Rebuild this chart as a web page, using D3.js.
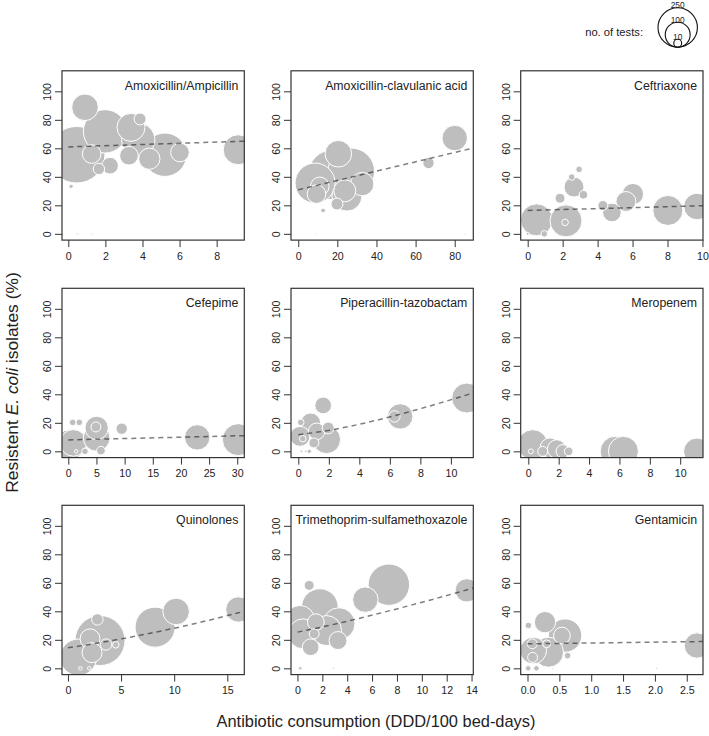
<!DOCTYPE html>
<html><head><meta charset="utf-8">
<script src="https://cdn.jsdelivr.net/npm/d3@7"></script>
<style>
body{margin:0;background:#fff}
svg{display:block}
text{font-family:"Liberation Sans",Arial,Helvetica,sans-serif;fill:#222}
</style>
</head><body>
<svg id="chart" width="709" height="736"></svg>
<script>
// ---------------- DATA ----------------
const panelTitles = ["Amoxicillin/Ampicillin","Amoxicillin-clavulanic acid","Ceftriaxone",
  "Cefepime","Piperacillin-tazobactam","Meropenem",
  "Quinolones","Trimethoprim-sulfamethoxazole","Gentamicin"];

// bubbles: [consumption (DDD/100 bed-days), resistant %, no. of tests]
const amoxAmpicillin = [[0.45,55.5,516],[0.9,88.8,114],[1.98,71.9,303],[1.26,56,56],[1.65,45.5,21],[2.25,47.8,45],
  [3.77,66,179],[3.38,74.7,126],[3.87,80.6,23],[3.27,54.8,56],[5.21,55.5,303],[4.37,52.7,73],[6.02,57.1,56],
  [9.16,59,145],[0.15,33.3,3],[0.5,0,0.5],[1.3,0,0.5]];
const amoxClavulanic = [[8.6,35.6,258],[17.9,41.5,403],[27.1,43.8,350],[24.9,26.5,145],[20.5,56.2,114],[32.7,34.9,88],
  [23.8,30.2,78],[11,33.3,56],[9.35,27.9,56],[19.8,20.9,23],[12.7,16.4,3.5],[66.6,49.7,21],[80,67.2,104],[9,0,0.5],[85.3,0,0.5]];
const ceftriaxone = [[0.51,9.8,165],[2.19,9.1,165],[2.14,8,7],[0.95,0,7],[0,0,1.5],[1.85,25,16],[2.65,32.8,64],
  [2.52,39.8,7],[2.94,45.2,7],[3.19,27.4,12],[4.3,19.9,16],[4.82,15,56],[6.02,27.9,73],[5.62,22.7,64],[8.02,16.4,145],[9.69,19.2,114]];
const cefepime = [[0.3,4.7,145],[0.89,5.9,114],[5.03,9.4,114],[5.03,16.4,88],[4.9,17.1,16],[0.78,20.3,7],[1.95,20.3,7],
  [9.48,15.9,21],[5.8,0.5,12],[2.96,0,7],[1.4,0,2],[22.9,9.8,104],[30.2,8.2,165]];
const piperacillinTazobactam = [[1.85,8.2,126],[0.81,19.9,64],[0.11,10.5,64],[1.63,32.2,45],[1.96,16.4,23],[0.16,20.3,7],
  [1.02,5.9,16],[0.29,8.9,7],[0.72,0,3],[0.5,0,1],[0.2,0,1],[1.2,14,45],[6.68,24.5,104],[6.3,24.5,21],[11.04,37.4,145]];
const meropenem = [[0.29,4.7,145],[0.17,0,4],[0.95,0,16],[1.43,2.4,64],[1.87,1.6,56],[2.27,0,29],[2.66,0,12],
  [5.72,0,145],[6.26,0,145],[11.1,0,114]];
const quinolones = [[3.02,19.5,403],[0.98,7.7,216],[2.08,20.7,64],[2.77,34.3,21],[3.59,16.7,21],[4.5,16.5,7],[2.27,11,64],
  [8.2,28.9,258],[10.18,39.9,114],[16.05,41.3,104],[1.17,0,2],[2.0,0,2]];
const trimethoprimSulfa = [[1.8,43,216],[0.2,33.6,145],[3.34,31.3,165],[0.46,24.2,145],[2.34,26.5,145],[1.48,32.4,45],
  [1.34,24.2,16],[1.06,14.8,45],[3.26,19.5,52],[0.94,58.2,16],[5.46,48.2,104],[7.35,58.7,276],[13.62,54.7,88],[0.22,0,2],[2.9,0,0.5]];
const gentamicin = [[0.275,32.4,73],[0.59,23,179],[0.54,23,45],[0.09,12.5,114],[0.013,30.1,7],[0.075,17.2,16],[0.3,17.2,10],
  [0.63,8.9,7],[0.33,11.3,145],[2.66,16,104],[0.08,7.7,16],[0.01,0,5],[0.14,0,5],[0.4,0,0.5],[2.03,0,0.5]];

// fitted trend
const trendAmoxAmpicillin = [[0,61],[9.49,65]];
const trendAmoxClavulanic = [[0,30.9],[89.5,60.2]];
const trendCeftriaxone = [[0,16.4],[10.03,19.7]];
const trendCefepime = [[0,8],[31.25,11]];
const trendPiperacillin = [[0,11.7],[2,14.7],[4,19],[6.3,25],[9,33],[11.47,41]];
const trendMeropenem = [];
const trendQuinolones = [[0,14.4],[4,19.3],[8,25],[12,31.5],[16.6,40]];
const trendTrimethoprim = [[0,25.4],[3.5,32],[7,39.5],[10.5,47.5],[14.14,56.3]];
const trendGentamicin = [[0,17.2],[2.755,18.8]];

// axis limits and ticks
const xLimits = [[-0.34,9.49],[-3.7,89.5],[-0.4,10.03],[-1.12,31.25],[-0.48,11.47],[-0.5,11.5],[-0.56,16.6],[-0.52,14.14],[-0.107,2.755]];
const xTicks = [[0,2,4,6,8],[0,20,40,60,80],[0,2,4,6,8,10],[0,5,10,15,20,25,30],[0,2,4,6,8,10],[0,2,4,6,8,10],
  [0,5,10,15],[0,2,4,6,8,10,12,14],[0,0.5,1,1.5,2,2.5]];
const xTickFormats = ["d","d","d","d","d","d","d","d",".1f"];
const yLimits = [-4.4,114.4];
const yTicks = [0,20,40,60,80,100];
const legendSizes = [250,100,10];

const bubbleSets = [amoxAmpicillin,amoxClavulanic,ceftriaxone,cefepime,piperacillinTazobactam,meropenem,quinolones,trimethoprimSulfa,gentamicin];
const trendSets = [trendAmoxAmpicillin,trendAmoxClavulanic,trendCeftriaxone,trendCefepime,trendPiperacillin,trendMeropenem,trendQuinolones,trendTrimethoprim,trendGentamicin];

// ---------------- LAYOUT ----------------
const svg = d3.select("#chart");
const colLeft = [62, 291, 520.7];
const rowTop = [70.8, 288.3, 505.3];
const pw = 182.3, ph = 169.3;
const rScale = d3.scaleSqrt().domain([0,250]).range([0,19.7]);
const tickFont = 10.6;

bubbleSets.forEach((data, i) => {
  const col = i % 3, row = Math.floor(i/3);
  const g = svg.append("g").attr("transform", `translate(${colLeft[col]},${rowTop[row]})`);
  const x = d3.scaleLinear().domain(xLimits[i]).range([0,pw]);
  const y = d3.scaleLinear().domain(yLimits).range([ph,0]);

  const clipId = "clip"+i;
  g.append("clipPath").attr("id",clipId).append("rect").attr("width",pw).attr("height",ph);
  const plot = g.append("g").attr("clip-path",`url(#${clipId})`);

  const sorted = data.slice().sort((a,b)=>b[2]-a[2]);
  plot.selectAll("circle").data(sorted).join("circle")
    .attr("cx", d=>x(d[0])).attr("cy", d=>y(d[1])).attr("r", d=>rScale(d[2]))
    .attr("fill","#bebebe").attr("stroke","#fff").attr("stroke-width",1);

  const tr = trendSets[i];
  if (tr.length) {
    const line = d3.line().x(d=>x(d[0])).y(d=>y(d[1])).curve(d3.curveMonotoneX);
    plot.append("path").attr("d", line(tr)).attr("fill","none")
      .attr("stroke","#000").attr("stroke-opacity",0.5).attr("stroke-width",1.5)
      .attr("stroke-dasharray","5,4");
  }

  // axes
  const xa = d3.axisBottom(x).tickValues(xTicks[i]).tickSize(7).tickPadding(5)
    .tickFormat(d3.format(xTickFormats[i]));
  const gx = g.append("g").attr("transform",`translate(0,${ph})`).call(xa);
  gx.select(".domain").remove();
  gx.selectAll("line").attr("stroke","#333");
  gx.selectAll("text").attr("font-size",tickFont).attr("fill","#222")
    .attr("font-family","Liberation Sans, Arial, sans-serif");

  const ya = d3.axisLeft(y).tickValues(yTicks).tickSize(7);
  const gy = g.append("g").call(ya);
  gy.select(".domain").remove();
  gy.selectAll("line").attr("stroke","#333");
  gy.selectAll("text").attr("font-size",tickFont).attr("fill","#222")
    .attr("font-family","Liberation Sans, Arial, sans-serif")
    .attr("text-anchor","middle").attr("dy",null).attr("x",null)
    .attr("transform","translate(-11,0) rotate(-90)").attr("dy","0");

  g.append("rect").attr("width",pw).attr("height",ph).attr("fill","none")
    .attr("stroke","#333").attr("stroke-width",1.2);

  g.append("text").attr("x",pw-6).attr("y",19).attr("text-anchor","end")
    .attr("font-size",12.3).text(panelTitles[i]);
});

// axis titles
svg.append("text").attr("x",376).attr("y",727).attr("text-anchor","middle")
  .attr("font-size",16.4).text("Antibiotic consumption (DDD/100 bed-days)");
const yt = svg.append("text").attr("transform","translate(18,382.5) rotate(-90)")
  .attr("text-anchor","middle").attr("font-size",17.4);
yt.append("tspan").text("Resistent ");
yt.append("tspan").attr("font-style","italic").text("E. coli");
yt.append("tspan").text(" isolates (%)");

// legend
const lgx = 677.7, lgBottom = 47.2;
svg.append("text").attr("x",643).attr("y",36).attr("text-anchor","end")
  .attr("font-size",11.2).text("no. of tests:");
const lg = svg.append("g");
legendSizes.forEach(n => {
  const r = rScale(n);
  lg.append("circle").attr("cx",lgx).attr("cy",lgBottom-r).attr("r",r)
    .attr("fill","none").attr("stroke","#111").attr("stroke-width",1.1);
  lg.append("text").attr("x",lgx).attr("y",lgBottom-2*r+0.3).attr("text-anchor","middle")
    .attr("font-size",8.4).text(n);
});
</script>
</body></html>
